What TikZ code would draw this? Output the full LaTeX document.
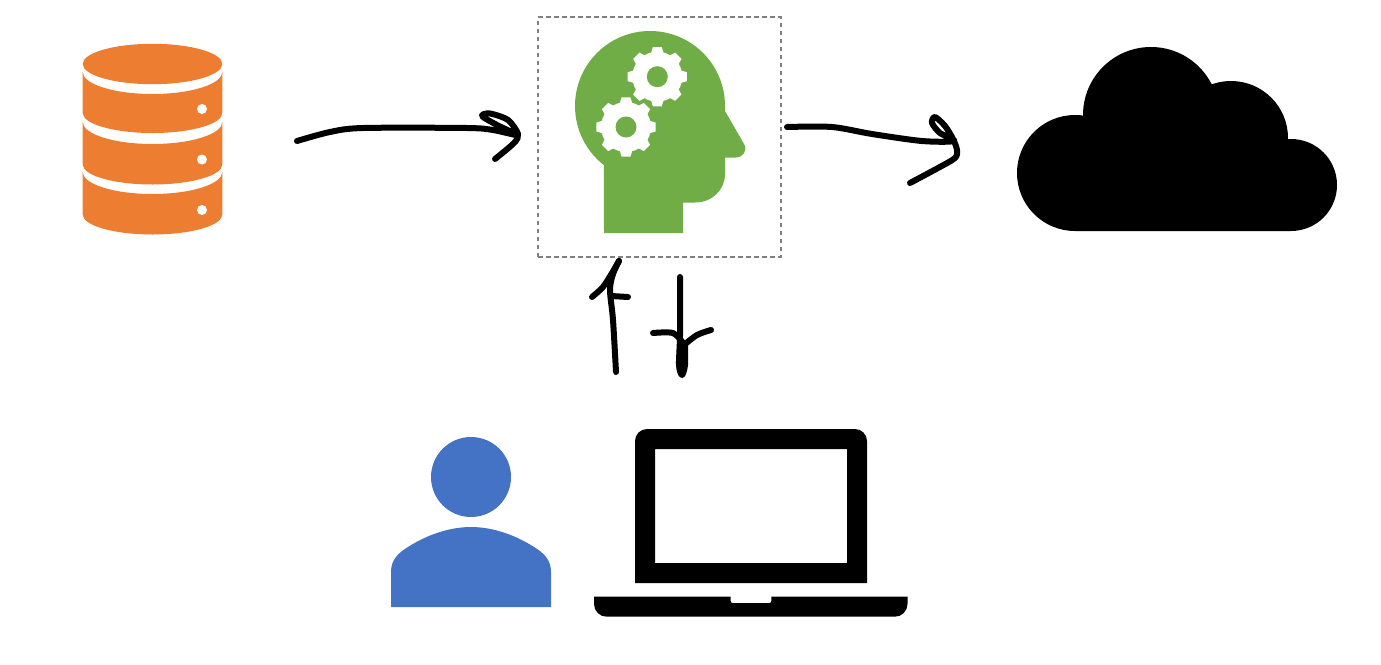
\documentclass[tikz,border=0pt]{standalone}
\definecolor{dborange}{HTML}{ED7D31}
\definecolor{headgreen}{HTML}{70AD47}
\definecolor{userblue}{HTML}{4472C4}
\newcommand{\dbband}[2]{%
  \fill[dborange] (82.7,#1) arc[start angle=180,end angle=360,x radius=69.8pt,y radius=22pt]
    -- (222.3,#2) arc[start angle=0,end angle=-180,x radius=69.8pt,y radius=20pt] -- cycle;}
\newcommand{\gearicon}[2]{%
  \begin{scope}[shift={(#1,#2)}]
    \fill[white] (0,0) circle[radius=25pt];
    \foreach \a in {0,45,...,315}
      \fill[white] (\a-17:23) -- (\a-8.5:30) -- (\a+8.5:30) -- (\a+17:23) -- cycle;
    \fill[headgreen] (0,0) circle[radius=10.5pt];
  \end{scope}}
\tikzset{
  stroke/.style={draw=black,line width=6pt,line cap=round,line join=round},
  framebox/.style={draw=black!50,dash pattern=on 4.5pt off 3.5pt,line width=1.8pt,minimum width=242.7pt,minimum height=239.4pt,inner sep=0pt}
}
\begin{document}
\begin{tikzpicture}[x=1pt,y=-1pt]
\useasboundingbox (0,0) rectangle (1381,664);
% database
\fill[dborange] (152.5,64) ellipse[x radius=69.8pt,y radius=20.2pt];
\dbband{72}{113}
\dbband{122}{164.5}
\dbband{172}{214.5}
\foreach \y in {109,159.5,210} \fill[white] (202,\y) circle[radius=5pt];
% brain frame
\node[framebox] (brain) at (659.4,137) {};
\fill[headgreen] (725,111) -- (725,106) arc[start angle=0,end angle=232,radius=75pt]
  -- (604,233) -- (683,233) -- (683,202.5) -- (695,202.5)
  .. controls (712,202.5) and (725,190) .. (725,174) -- (725,157.5) -- (736,157.5)
  .. controls (743,157.5) and (748,150) .. (744,144) -- cycle;
\gearicon{657.3}{76.7}
\gearicon{626}{127}
% cloud
\fill[black] (1075,173) circle[radius=58pt]
  (1151,115) circle[radius=68pt]
  (1231,138) circle[radius=57pt]
  (1291,185) circle[radius=46pt]
  (1075,170) rectangle (1291,231);
% user
\fill[userblue] (471,477) circle[radius=40pt];
\fill[userblue] (391,607) -- (391,572) .. controls (391,560) and (398,553) .. (408,547)
  .. controls (425,536) and (448,527) .. (471,527)
  .. controls (494,527) and (517,536) .. (534,547)
  .. controls (544,553) and (551,560) .. (551,572) -- (551,607) -- cycle;
% laptop
\fill[black,even odd rule] (635,583) -- (635,441) arc[start angle=180,end angle=90,radius=12pt]
  -- (855,429) arc[start angle=90,end angle=0,radius=12pt] -- (867,583) -- cycle
  (655,449) rectangle (847,563);
\fill[black] (594,596.7) -- (730.7,596.7) -- (730.7,601) .. controls (730.7,602.5) and (731.5,603) .. (733,603)
  -- (769,603) .. controls (770.5,603) and (771.3,602.5) .. (771.3,601) -- (771.3,596.7) -- (907.5,596.7)
  -- (907.5,604) arc[start angle=0,end angle=-90,radius=12.7pt] -- (606.7,616.7)
  arc[start angle=270,end angle=180,radius=12.7pt] -- cycle;
% hand-drawn arrows
\coordinate (a1start) at (297,141);
\coordinate (a2start) at (787,127);
\coordinate (a3start) at (616,372);
\coordinate (a4start) at (680,277);
\draw[stroke] plot[smooth,tension=0.5] coordinates {(a1start) (330,132) (363,128) (467,128) (493,130) (517,135) (497,125) (482,116) (490,113.5) (508,120) (518,134) (514,143) (495,159)};
\draw[stroke] plot[smooth,tension=0.5] coordinates {(a2start) (832,127) (872,134) (922,141) (954,141) (940,133) (932,123) (935,117) (945,126) (953,139) (957,150) (955,158) (938,168) (910,183)};
\draw[stroke] plot[smooth,tension=0.5] coordinates {(a3start) (613,320) (610,290) (613,274) (619,261)};
\draw[stroke] plot[smooth,tension=0.5] coordinates {(592,297) (603,287) (612,273) (619,261)};
\draw[stroke] (611,296) -- (628,297);
\draw[stroke] plot[smooth,tension=0.5] coordinates {(a4start) (680,335) (679,365) (682,375) (685,365) (685,345)};
\draw[stroke] plot[smooth,tension=0.5] coordinates {(653,333) (673,333) (683,343)};
\draw[stroke] plot[smooth,tension=0.5] coordinates {(711,330) (697,335) (684,345)};
\end{tikzpicture}
\end{document}
